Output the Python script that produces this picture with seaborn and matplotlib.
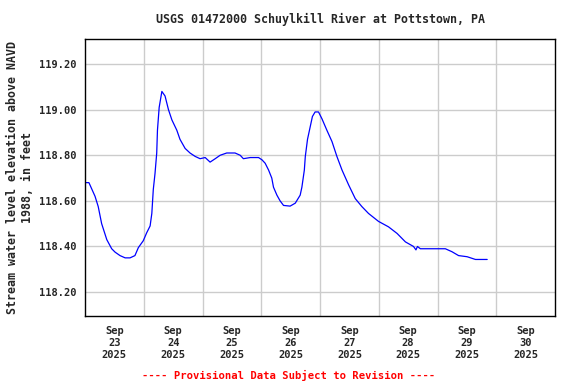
import numpy as np
import pandas as pd
import matplotlib
matplotlib.use("Agg")
import matplotlib.pyplot as plt
import seaborn as sns

# hours since Sep 23 2025 00:00 and water level (ft above NAVD 1988)
hours = [0.3, 1.6, 4.1, 5.4, 6.8, 8.9, 10.9, 12.3, 14.3, 16.4, 18.4, 20.4, 21.8,
         23.8, 25.2, 26.6, 27.3, 27.9, 28.6, 29.3, 29.6, 30.3, 31.4, 32.7, 34.1,
         35.5, 37.5, 38.8, 40.9, 42.9, 45.0, 47.0, 49.1, 51.1, 53.2, 55.2, 57.9,
         61.3, 63.4, 64.7, 67.5, 70.9, 72.3, 73.6, 75.0, 76.3, 77.0, 78.4, 79.7,
         81.1, 83.8, 85.9, 87.9, 88.6, 89.6, 90.0, 90.9, 92.0, 92.9, 94.0, 95.4,
         96.8, 98.8, 100.9, 102.9, 105.0, 107.7, 110.4, 113.1, 115.8, 119.9,
         124.0, 127.5, 130.9, 134.2, 135.2, 135.8, 137.0, 147.2, 149.9, 152.6,
         156.1, 159.5, 164.3]
level = [118.68, 118.68, 118.62, 118.575, 118.50, 118.43, 118.39, 118.375, 118.36,
         118.35, 118.35, 118.36, 118.395, 118.425, 118.46, 118.49, 118.545, 118.65,
         118.72, 118.81, 118.91, 119.01, 119.08, 119.06, 119.00, 118.955, 118.91,
         118.87, 118.83, 118.81, 118.795, 118.785, 118.79, 118.77, 118.785, 118.80,
         118.81, 118.81, 118.80, 118.785, 118.79, 118.79, 118.78, 118.765, 118.735,
         118.70, 118.66, 118.625, 118.60, 118.58, 118.577, 118.59, 118.625, 118.66,
         118.735, 118.795, 118.87, 118.925, 118.97, 118.99, 118.99, 118.96, 118.91,
         118.86, 118.795, 118.735, 118.67, 118.61, 118.575, 118.545, 118.51, 118.486,
         118.457, 118.42, 118.40, 118.385, 118.40, 118.39, 118.39, 118.377, 118.36,
         118.355, 118.343, 118.343]

day_labels = ["Sep\n23\n2025", "Sep\n24\n2025", "Sep\n25\n2025", "Sep\n26\n2025",
              "Sep\n27\n2025", "Sep\n28\n2025", "Sep\n29\n2025", "Sep\n30\n2025"]
y_ticks = [118.2, 118.4, 118.6, 118.8, 119.0, 119.2]

df = pd.DataFrame({"hours": hours, "level": level})

sns.set_style("white")
plt.rcParams["font.family"] = ["DejaVu Sans Mono"]
plt.rcParams["font.weight"] = "bold"

fig = plt.figure(figsize=(5.76, 3.84), dpi=100)
ax = fig.add_axes([85 / 576, 1 - 316 / 384, 470 / 576, 277 / 384])

sns.lineplot(data=df, x="hours", y="level", color="#0000ff", linewidth=0.9, ax=ax)

ax.set_xlim(0, 192)
ax.set_ylim(118.095, 119.31)
ax.set_xticks([12 + 24 * i for i in range(8)])
ax.set_xticklabels(day_labels, fontsize=7.5, fontweight="bold", linespacing=1.25)
ax.set_xticks([24 * i for i in range(1, 8)], minor=True)
ax.set_yticks(y_ticks)
ax.set_yticklabels([f"{v:.2f}" for v in y_ticks], fontsize=7.5, fontweight="bold")
ax.tick_params(which="both", length=0, pad=7)
ax.tick_params(axis="y", pad=6)

ax.grid(False)
ax.grid(which="minor", axis="x", color="#cccccc", linewidth=1)
ax.grid(which="major", axis="y", color="#cccccc", linewidth=1)
ax.set_axisbelow(True)
for s in ax.spines.values():
    s.set_color("black")
    s.set_linewidth(1)

ax.set_xlabel("")
ax.set_ylabel("Stream water level elevation above NAVD\n1988, in feet",
              fontsize=8.4, fontweight="bold", labelpad=4)
fig.text(320 / 576, 1 - 19 / 384, "USGS 01472000 Schuylkill River at Pottstown, PA",
         ha="center", va="center", fontsize=8.4, fontweight="bold")
fig.text(289 / 576, 1 - 375 / 384, "---- Provisional Data Subject to Revision ----",
         ha="center", va="center", fontsize=7.6, fontweight="bold", color="red")

fig.savefig("out.png", dpi=100)
